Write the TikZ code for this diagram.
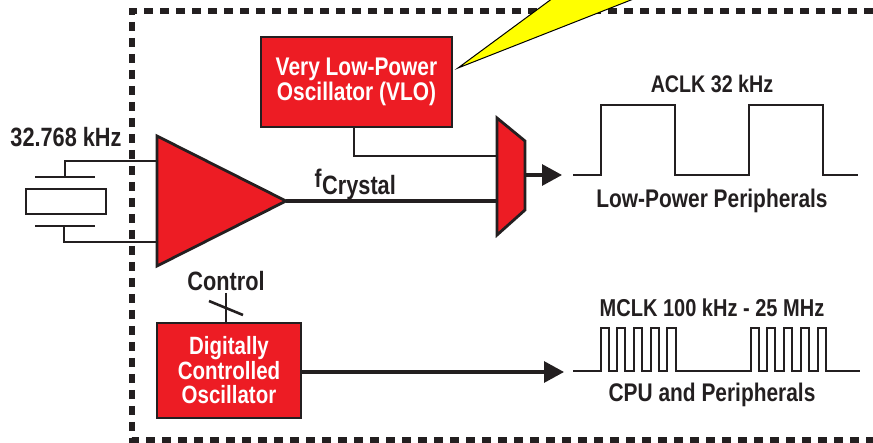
\documentclass[tikz,border=0pt]{standalone}
\usepackage{fontspec}
\setmainfont[FakeStretch=0.82]{Liberation Sans}
\usetikzlibrary{arrows.meta}
\definecolor{blockred}{HTML}{ED1C24}
\definecolor{inkdark}{HTML}{231F20}
\definecolor{boltyellow}{HTML}{FFFF00}
\tikzset{
  wire/.style={draw=inkdark,line width=2.6pt,line join=miter},
  heavywire/.style={wire,line width=3.1pt},
  block/.style={draw=inkdark,line width=2.8pt,fill=blockred,inner sep=0pt,align=center,text=white,font=\fontsize{25.5}{24.5}\selectfont\bfseries},
  label/.style={text=inkdark,inner sep=0pt,font=\fontsize{25.5}{26}\selectfont\bfseries},
  redshape/.style={draw=inkdark,line width=2.8pt,fill=blockred,line join=miter},
  bound/.style={draw=inkdark,line width=5.5pt,dash pattern=on 9pt off 7pt},
  sig/.style={heavywire,-{Triangle[length=20pt,width=21pt]}},
}
\begin{document}
\begin{tikzpicture}[x=1pt,y=-1pt]
\useasboundingbox (0,0) rectangle (873,443);
% boundary
\coordinate (bTR) at (873,11);
\coordinate (bTL) at (132,11);
\coordinate (bBL) at (132,440);
\coordinate (bBR) at (873,440);
\draw[bound] (bTR) -- (bTL) -- (bBL) -- (bBR);
% yellow callout
\coordinate (tip) at (458,68);
\coordinate (yA) at (553,-2);
\coordinate (yB) at (636,-2);
\fill[boltyellow,draw=black,line width=1pt] (tip) -- (yA) -- (yB) -- cycle;
% blocks
\node[block,minimum width=191pt,minimum height=90pt] (vlo) at (356.5,82) {Very Low-Power\\Oscillator (VLO)};
\node[block,font=\fontsize{25}{24.5}\selectfont\bfseries,minimum width=144pt,minimum height=95pt] (dco) at (229,370.5) {Digitally\\Controlled\\Oscillator};
% crystal
\node[draw=inkdark,line width=2.4pt,fill=white,minimum width=80pt,minimum height=25pt,inner sep=0pt] (xtal) at (66,201.5) {};
\coordinate (plTa) at (35,177); \coordinate (plTb) at (95,177);
\coordinate (plBa) at (35,226); \coordinate (plBb) at (95,226);
\draw[wire] (plTa) -- (plTb);
\draw[wire] (plBa) -- (plBb);
% amplifier
\coordinate (a1) at (157,136); \coordinate (a2) at (157,266); \coordinate (aOut) at (286,201);
\coordinate (aIn1) at (157,161); \coordinate (aIn2) at (157,242);
\coordinate (lt) at (65,177); \coordinate (lb) at (64,226);
\draw[wire] (lt) |- (aIn1);
\draw[wire] (lb) |- (aIn2);
\draw[redshape] (a1) -- (aOut) -- (a2) -- cycle;
% mux
\coordinate (m1) at (497,118); \coordinate (m2) at (525,141); \coordinate (m3) at (525,210); \coordinate (m4) at (497,235);
\coordinate (mIn1) at (497,156); \coordinate (mIn2) at (497,201); \coordinate (mOut) at (525,175);
\coordinate (vloOut) at (354,127);
\coordinate (arrA) at (562,175);
\draw[wire] (vloOut) |- (mIn1);
\draw[heavywire] (aOut) -- (mIn2);
\draw[redshape] (m1) -- (m2) -- (m3) -- (m4) -- cycle;
\draw[sig] (mOut) -- (arrA);
% DCO output
\coordinate (dcoOut) at (301,372); \coordinate (arrB) at (564,372);
\draw[sig] (dcoOut) -- (arrB);
% control
\coordinate (ctlTop) at (226,293); \coordinate (ctlBot) at (226,322);
\coordinate (s1) at (209,301); \coordinate (s2) at (243,315);
\draw[wire] (ctlTop) -- (ctlBot);
\draw[wire] (s1) -- (s2);
% waveforms
\draw[wire] (573,175) -- (601,175) -- (601,105) -- (675,105) -- (675,175) -- (749,175) -- (749,105) -- (823,105) -- (823,175) -- (858,175);
\draw[wire,line width=2.2pt] (573,371) -- (601,371) -- (601,328) -- (609,328) -- (609,371) -- (617,371) -- (617,328) -- (625,328) -- (625,371) -- (634,371) -- (634,328) -- (642,328) -- (642,371) -- (651,371) -- (651,328) -- (659,328) -- (659,371) -- (667,371) -- (667,328) -- (676,328) -- (676,371)
 -- (751,371) -- (751,328) -- (759,328) -- (759,371) -- (767,371) -- (767,328) -- (775,328) -- (775,371) -- (784,371) -- (784,328) -- (792,328) -- (792,371) -- (801,371) -- (801,328) -- (809,328) -- (809,371) -- (818,371) -- (818,328) -- (826,328) -- (826,371) -- (860,371);
% labels
\node[label,font=\fontsize{26.5}{26}\selectfont\bfseries] (xlab) at (66,137) {32.768 kHz};
\node[label,font=\fontsize{24}{26}\selectfont\bfseries] (aclk) at (712,84) {ACLK 32 kHz};
\node[label] (lpp) at (712,201) {Low-Power Peripherals};
\node[label,font=\fontsize{24.4}{26}\selectfont\bfseries] (mclk) at (712,308) {MCLK 100 kHz - 25 MHz};
\node[label] (cpu) at (712,395) {CPU and Peripherals};
\node[label,font=\fontsize{26.5}{26}\selectfont\bfseries] (ctl) at (226,281) {Control};
\node[label] (fc) at (318,178) {f};
\node[label,anchor=west,font=\fontsize{26.5}{26}\selectfont\bfseries] (crys) at (322,188) {Crystal};
\end{tikzpicture}
\end{document}
